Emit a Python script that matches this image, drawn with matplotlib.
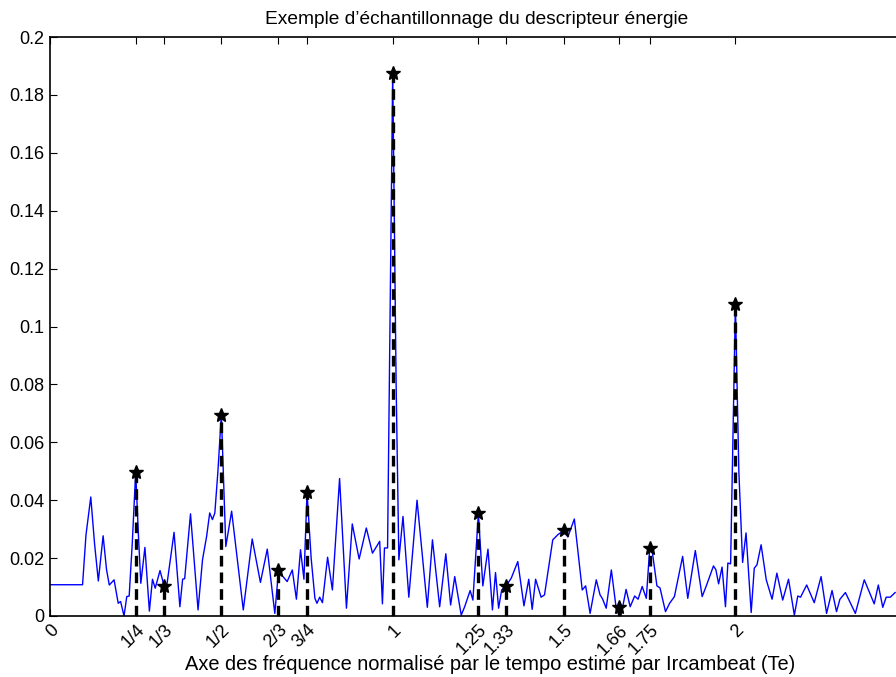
import matplotlib
matplotlib.use("Agg")
import matplotlib.pyplot as plt

plt.rcParams["font.family"] = ["Liberation Sans", "DejaVu Sans"]

# energy descriptor curve
curve_x = [0.0, 0.095, 0.105, 0.119, 0.130, 0.141, 0.155, 0.165, 0.173, 0.187,
           0.199, 0.206, 0.216, 0.224, 0.231, 0.240, 0.250, 0.258, 0.265, 0.277,
           0.290, 0.299, 0.307, 0.321, 0.333, 0.341, 0.362, 0.379, 0.387, 0.393,
           0.410, 0.432, 0.445, 0.457, 0.466, 0.474, 0.481, 0.490, 0.500, 0.507,
           0.513, 0.530, 0.564, 0.590, 0.614, 0.634, 0.656, 0.667, 0.680, 0.692,
           0.707, 0.719, 0.731, 0.741, 0.750, 0.762, 0.773, 0.779, 0.787, 0.795,
           0.810, 0.824, 0.845, 0.865, 0.882, 0.902, 0.923, 0.941, 0.962, 0.970,
           0.976, 0.985, 1.000, 1.010, 1.018, 1.030, 1.047, 1.071, 1.101, 1.116,
           1.137, 1.155, 1.169, 1.181, 1.200, 1.210, 1.226, 1.234, 1.250, 1.263,
           1.278, 1.291, 1.300, 1.309, 1.318, 1.331, 1.346, 1.365, 1.383, 1.397,
           1.407, 1.417, 1.433, 1.443, 1.467, 1.482, 1.500, 1.511, 1.530, 1.553,
           1.563, 1.576, 1.594, 1.605, 1.612, 1.623, 1.638, 1.654, 1.660, 1.666,
           1.681, 1.693, 1.706, 1.716, 1.728, 1.740, 1.750, 1.757, 1.771, 1.780,
           1.796, 1.808, 1.822, 1.846, 1.861, 1.883, 1.903, 1.915, 1.936, 1.943,
           1.951, 1.961, 1.971, 1.978, 1.986, 2.000, 2.010, 2.021, 2.031, 2.046,
           2.055, 2.063, 2.075, 2.090, 2.107, 2.121, 2.138, 2.155, 2.172, 2.182,
           2.190, 2.208, 2.230, 2.250, 2.266, 2.282, 2.295, 2.305, 2.321, 2.350,
           2.376, 2.405, 2.417, 2.430, 2.440, 2.452, 2.466]
curve_y = [0.0108, 0.0108, 0.028, 0.0411, 0.025, 0.0121, 0.0277, 0.016, 0.0107, 0.0125,
           0.0044, 0.005, 0.0, 0.0067, 0.0069, 0.025, 0.0497, 0.028, 0.0113, 0.0237,
           0.0017, 0.0127, 0.0096, 0.0157, 0.0104, 0.0107, 0.0289, 0.0032, 0.0127, 0.0129,
           0.0353, 0.0021, 0.0194, 0.0275, 0.0356, 0.0333, 0.0356, 0.050, 0.0697, 0.045,
           0.024, 0.0362, 0.0021, 0.0266, 0.0116, 0.0231, 0.0009, 0.0159, 0.0136, 0.0119,
           0.0159, 0.0058, 0.0229, 0.0127, 0.0427, 0.020, 0.0061, 0.0044, 0.0065, 0.0046,
           0.0203, 0.009, 0.0475, 0.0027, 0.0318, 0.0197, 0.0304, 0.0217, 0.0258, 0.0042,
           0.0235, 0.0235, 0.1875, 0.080, 0.0194, 0.0344, 0.0065, 0.040, 0.003, 0.0263,
           0.0032, 0.0215, 0.0038, 0.0136, 0.0003, 0.0032, 0.0088, 0.0055, 0.0353, 0.0104,
           0.0231, 0.0021, 0.015, 0.0027, 0.009, 0.0104, 0.0131, 0.0188, 0.0035, 0.0127,
           0.0023, 0.0127, 0.0065, 0.0073, 0.0263, 0.0281, 0.0296, 0.0273, 0.0335, 0.009,
           0.0104, 0.0009, 0.0125, 0.0073, 0.006, 0.0027, 0.0159, 0.0009, 0.0032, 0.0,
           0.0092, 0.0032, 0.0069, 0.0058, 0.0102, 0.0061, 0.0235, 0.0226, 0.0104, 0.0097,
           0.0015, 0.0044, 0.0067, 0.0206, 0.0061, 0.0226, 0.0067, 0.0104, 0.0173, 0.016,
           0.0111, 0.0169, 0.0032, 0.0183, 0.018, 0.1078, 0.050, 0.0185, 0.0287, 0.0012,
           0.0165, 0.0177, 0.0246, 0.0125, 0.0058, 0.0148, 0.0055, 0.0127, 0.0003, 0.0069,
           0.0065, 0.0107, 0.0046, 0.0136, 0.0009, 0.0088, 0.0015, 0.0058, 0.0081, 0.0009,
           0.0125, 0.0042, 0.0107, 0.003, 0.0065, 0.0065, 0.0081]

# sampled positions (stems)
stem_x = [1/4, 1/3, 1/2, 2/3, 3/4, 1, 1.25, 1.33, 1.5, 1.66, 1.75, 2]
stem_y = [0.0499, 0.0104, 0.0696, 0.0159, 0.0427, 0.1877, 0.0355, 0.0104,
          0.0296, 0.0032, 0.0235, 0.1076]

tick_pos = [0] + stem_x
tick_labels = ["0", "1/4", "1/3", "1/2", "2/3", "3/4", "1", "1.25", "1.33",
               "1.5", "1.66", "1.75", "2"]
y_ticks = [0, 0.02, 0.04, 0.06, 0.08, 0.1, 0.12, 0.14, 0.16, 0.18, 0.2]
y_labels = ["0", "0.02", "0.04", "0.06", "0.08", "0.1", "0.12", "0.14",
            "0.16", "0.18", "0.2"]

W, H = 896, 677
fig = plt.figure(figsize=(W / 100, H / 100), dpi=100)
ax = fig.add_axes([50 / W, 61 / H, 846 / W, 579 / H])

ax.plot(curve_x, curve_y, color="blue", linewidth=1.0, solid_joinstyle="round")
for sx, sy in zip(stem_x, stem_y):
    ax.plot([sx, sx], [0, sy], color="black", linestyle=(0, (3.2, 1.8)), linewidth=2.4)
ax.plot(stem_x, stem_y, linestyle="none", marker="*", markersize=10,
        color="black")

ax.set_xlim(0, 2.4686)
ax.set_ylim(0, 0.2)
ax.set_xticks(tick_pos)
ax.set_xticklabels(tick_labels, rotation=45, ha="right", va="top",
                   rotation_mode="anchor", fontsize=13)
ax.set_yticks(y_ticks)
ax.set_yticklabels(y_labels, fontsize=13)
ax.tick_params(direction="in", length=5, width=0.8, top=True, right=False,
               pad=4)
ax.spines["right"].set_visible(False)
for s in ["left", "top", "bottom"]:
    ax.spines[s].set_linewidth(1.2)

# title and x label placed like the original (axes runs past the right edge)
fig.text(477 / W, 1 - 19 / H,
         "Exemple d\u2019\u00e9chantillonnage du descripteur \u00e9nergie",
         ha="center", va="center", fontsize=13.8)
fig.text(490 / W, 1 - 665 / H,
         "Axe des fr\u00e9quence normalis\u00e9 par le tempo estim\u00e9 par Ircambeat (Te)",
         ha="center", va="center", fontsize=14.4)

fig.savefig("out.png", dpi=100)
plt.close(fig)
